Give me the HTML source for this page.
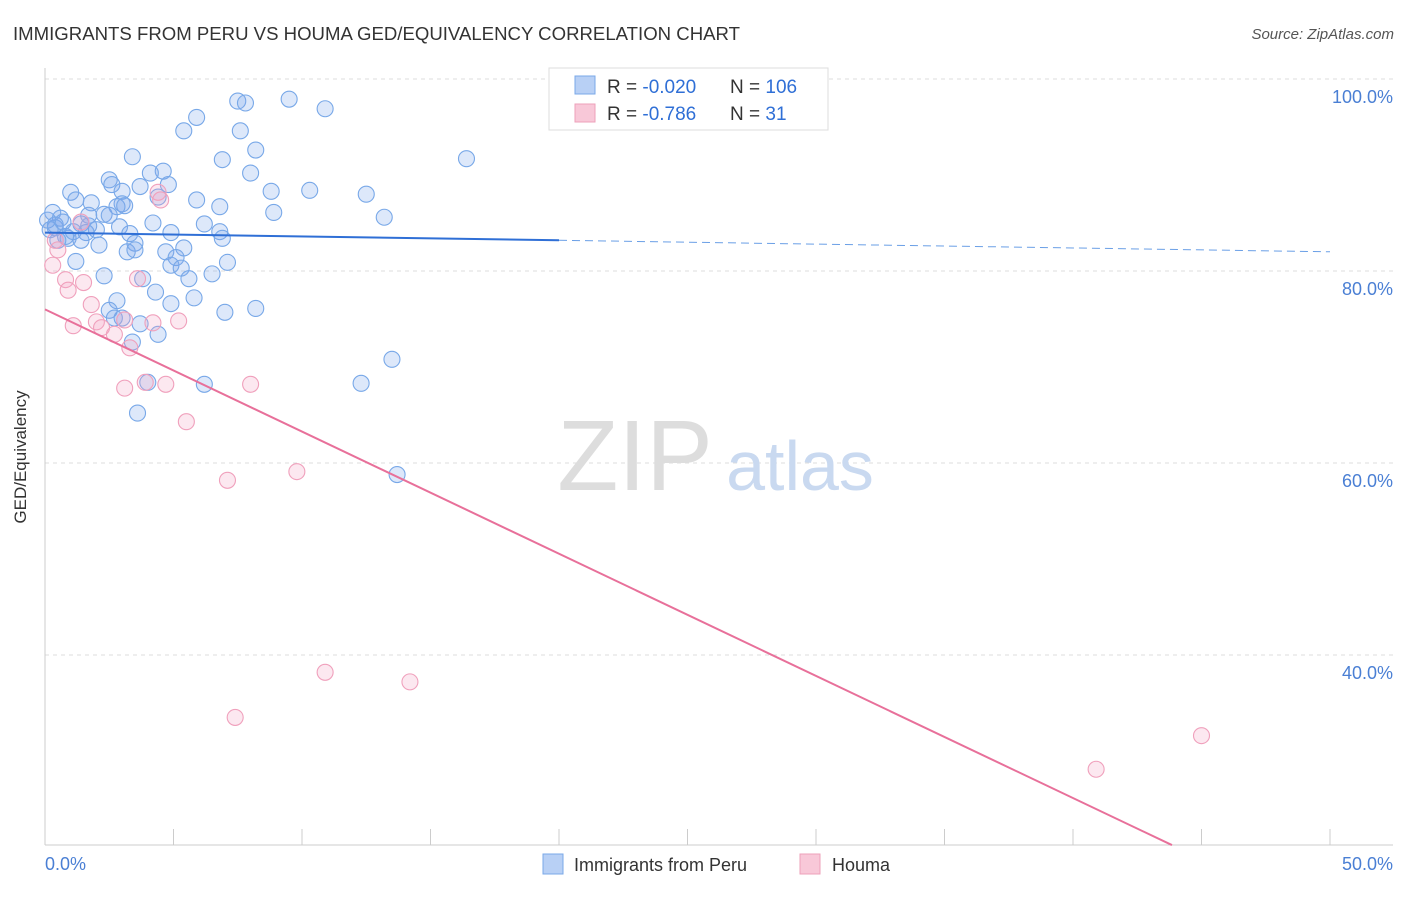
<!DOCTYPE html>
<html><head><meta charset="utf-8"><style>
body{margin:0;background:#fff;font-family:"Liberation Sans",sans-serif}
svg text{font-family:"Liberation Sans",sans-serif}
</style></head><body>
<svg id="chart" width="1406" height="892">
<text x="13" y="40" font-size="18.6" fill="#333">IMMIGRANTS FROM PERU VS HOUMA GED/EQUIVALENCY CORRELATION CHART</text>
<text x="1394" y="39" font-size="15" fill="#555" text-anchor="end" font-style="italic">Source: ZipAtlas.com</text>
<g id="grid"></g>
<g>
<text x="635" y="490" font-size="100" fill="#ddd" text-anchor="middle" font-family="Liberation Serif,serif">ZIP</text>
<text x="800" y="490" font-size="70" fill="#c9d9f0" text-anchor="middle">atlas</text>
</g>
<line x1="45" y1="68" x2="45" y2="845" stroke="#ccc"/>
<line x1="45" y1="845" x2="1393" y2="845" stroke="#ccc"/>
<g id="ticks"></g>
<g id="pts"></g>
<g id="trend"></g>
<text x="26" y="457" font-size="17" fill="#333" transform="rotate(-90 26 457)" text-anchor="middle">GED/Equivalency</text>
<text x="45" y="870" font-size="18" fill="#4a7fd4">0.0%</text>
<text x="1393" y="870" font-size="18" fill="#4a7fd4" text-anchor="end">50.0%</text>
<g>
<rect x="549" y="68" width="279" height="62" fill="#fff" stroke="#ddd"/>
<rect x="575" y="76" width="20" height="18" fill="#b8d0f5" stroke="#7aa8e8"/>
<rect x="575" y="104" width="20" height="18" fill="#f8c8d8" stroke="#eea0ba"/>
<text x="607" y="93" font-size="19" fill="#333">R = <tspan fill="#2f6fd6">-0.020</tspan></text>
<text x="730" y="93" font-size="19" fill="#333">N = <tspan fill="#2f6fd6">106</tspan></text>
<text x="607" y="120" font-size="19" fill="#333">R = <tspan fill="#2f6fd6"> -0.786</tspan></text>
<text x="730" y="120" font-size="19" fill="#333">N = <tspan fill="#2f6fd6">  31</tspan></text>
</g>
<g>
<rect x="543" y="854" width="20" height="20" fill="#b8d0f5" stroke="#7aa8e8"/>
<text x="574" y="871" font-size="18" fill="#333">Immigrants from Peru</text>
<rect x="800" y="854" width="20" height="20" fill="#f8c8d8" stroke="#eea0ba"/>
<text x="832" y="871" font-size="18" fill="#333">Houma</text>
</g>
</svg>
<script>
const yTicks=[100,80,60,40];
const xTicks=[0,5,10,15,20,25,30,35,40,45,50];
const blueX=[7.5,7.8,9.5,10.9,5.9,5.4,7.6,8.2,3.4,6.9,16.4,4.6,4.1,8.0,2.5,4.8,3.7,2.6,8.8,10.3,12.5,1.0,3.0,4.4,5.9,1.2,1.8,3.0,2.8,3.1,6.8,8.9,13.2,2.3,1.7,0.3,0.6,4.2,6.2,1.4,0.4,2.0,2.9,4.9,6.8,6.9,3.3,0.9,1.6,2.1,3.5,5.4,3.2,3.5,4.7,1.2,7.1,5.1,4.9,5.3,6.5,2.3,3.8,5.6,4.3,5.8,2.8,4.9,8.2,7.0,2.5,3.0,2.7,3.7,4.4,3.4,13.5,4.0,6.2,12.3,3.6,13.7,0.1,0.2,0.4,0.7,0.8,1.1,0.5,1.4,1.7,2.5];
const blueY=[97.7,97.5,97.9,96.9,96.0,94.6,94.6,92.6,91.9,91.6,91.7,90.4,90.2,90.2,89.5,89.0,88.8,89.0,88.3,88.4,88.0,88.2,88.3,87.7,87.4,87.4,87.1,87.0,86.7,86.8,86.7,86.1,85.6,85.9,85.8,86.1,85.5,85.0,84.9,84.9,84.5,84.3,84.6,84.0,84.1,83.4,83.9,83.4,84.0,82.7,82.9,82.4,82.0,82.2,82.0,81.0,80.9,81.4,80.6,80.3,79.7,79.5,79.2,79.2,77.8,77.2,76.9,76.6,76.1,75.7,75.9,75.1,75.1,74.5,73.4,72.6,70.8,68.4,68.2,68.3,65.2,58.8,85.3,84.3,84.8,85.1,83.6,84.1,83.2,83.2,84.7,85.8];
const pinkX=[0.4,0.5,0.3,0.8,0.9,1.5,4.4,4.5,1.4,1.8,1.1,2.0,2.2,2.7,3.1,3.3,4.2,5.2,3.6,3.1,3.9,4.7,8.0,5.5,7.1,9.8,10.9,14.2,7.4,45.0,40.9];
const pinkY=[83.2,82.2,80.6,79.1,78.0,78.8,88.2,87.4,85.1,76.5,74.3,74.7,74.1,73.4,74.9,72.0,74.6,74.8,79.2,67.8,68.4,68.2,68.2,64.3,58.2,59.1,38.2,37.2,33.5,31.6,28.1];
const blueTrend=[84.0,83.2,82.0]; // at x=0, 20, 50
const pinkTrend=[76.0,20.2]; // at x=0, 43.85
const pinkTrendEndX=43.85;
const NS="http://www.w3.org/2000/svg";
const X=v=>45+v*25.7, Y=v=>79+(100-v)*9.6;
function mk(tag,attrs,parent){const e=document.createElementNS(NS,tag);for(const k in attrs)e.setAttribute(k,attrs[k]);document.getElementById(parent).appendChild(e);return e;}
yTicks.forEach(t=>{
 const l=mk('line',{x1:45,x2:1393,y1:Y(t),y2:Y(t),stroke:'#ddd','stroke-dasharray':'4,4'},'grid');
 
 
 const tx=mk('text',{x:1393,y:Y(t)+24,'font-size':18,fill:'#4a7fd4','text-anchor':'end'},'grid');
 tx.textContent=t.toFixed(1)+'%';
 
 
});
xTicks.forEach(t=>{
 const l=mk('line',{x1:X(t),x2:X(t),y1:829,y2:845,stroke:'#ccc'},'ticks');
 
 
});
blueX.forEach((v,i)=>{
 const c=mk('circle',{cx:X(v),cy:Y(blueY[i]),r:8,fill:'rgba(120,165,235,0.25)',stroke:'#78a8e8','stroke-width':1.1},'pts');
 
 
});
pinkX.forEach((v,i)=>{
 const c=mk('circle',{cx:X(v),cy:Y(pinkY[i]),r:8,fill:'rgba(245,165,195,0.25)',stroke:'#f0a0bc','stroke-width':1.1},'pts');
 
 
});
const b1=mk('line',{x1:X(0),y1:Y(blueTrend[0]),x2:X(20),y2:Y(blueTrend[1]),stroke:'#2f6fd6','stroke-width':2},'trend');


const b2=mk('line',{x1:X(20),y1:Y(blueTrend[1]),x2:X(50),y2:Y(blueTrend[2]),stroke:'#6a9fe6','stroke-width':1,'stroke-dasharray':'8,5'},'trend');


const p1=mk('line',{x1:X(0),y1:Y(pinkTrend[0]),x2:X(pinkTrendEndX),y2:Y(pinkTrend[1]),stroke:'#e8709a','stroke-width':2},'trend');


</script>
</body></html>
